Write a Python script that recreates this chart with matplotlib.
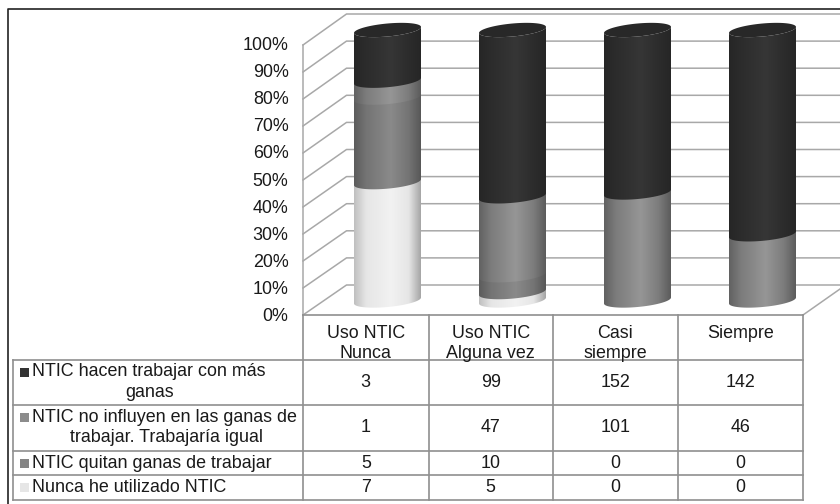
import numpy as np
import matplotlib
matplotlib.use('Agg')
import matplotlib.pyplot as plt
from matplotlib.colors import LinearSegmentedColormap
from matplotlib.patches import Polygon, Rectangle

categorias = ['Uso NTIC\nNunca', 'Uso NTIC\nAlguna vez', 'Casi\nsiempre', 'Siempre']
hacen = [3, 99, 152, 142]
no_influyen = [1, 47, 101, 46]
quitan = [5, 10, 0, 0]
nunca = [7, 5, 0, 0]
ticks_pct = [0, 10, 20, 30, 40, 50, 60, 70, 80, 90, 100]

plt.rcParams['font.family'] = ['Liberation Sans', 'DejaVu Sans']
TXT = '#1a1a1a'
GRID = '#a8a8a8'
TABLA = '#8f8f8f'
FS = 12.9

fig = plt.figure(figsize=(8.4, 5.04), dpi=100)
ax = fig.add_axes([0, 0, 1, 1])
ax.set_xlim(0, 840)
ax.set_ylim(504, 0)
ax.axis('off')

# marco exterior
ax.plot([8, 8, 840], [504, 9, 9], color='#222222', lw=1.2, zorder=1)

# paredes 3D
for i in range(11):
    y_back = 285 - 27.1 * i
    y_front = 315 - 27 * i
    ax.plot([303, 346.5, 840], [y_front, y_back, y_back], color=GRID, lw=1.1, zorder=2)
ax.plot([303, 303], [45, 315], color=GRID, lw=1.1, zorder=2)
ax.plot([803, 840], [315, 289], color=GRID, lw=1.1, zorder=2)

# etiquetas del eje
for p in ticks_pct:
    ax.text(288.5, 316.5 - 2.71 * p, str(p) + '%', ha='right', va='center', fontsize=FS, color=TXT, zorder=5)

# cilindros
X_LEFT = [354, 479, 604, 729]
R = 33.5
Y_BASE = 300.5
Y_TOP = 30
B = 6.5
TILT = 3


def arco(cx, cy):
    t = np.linspace(0, np.pi, 60)
    x = cx + R * np.cos(t)
    y = cy + B * np.sin(t) - TILT * np.cos(t)
    return x, y


def mapa(izq, claro, centro, der):
    return LinearSegmentedColormap.from_list('c', [(0, izq), (0.18, claro), (0.55, centro), (0.82, claro), (1, der)])


estilos = [
    mapa('#c0c0c0', '#e6e6e6', '#f2f2f2', '#a6a6a6'),
    mapa('#5c5c5c', '#747474', '#8a8a8a', '#585858'),
    mapa('#626262', '#7c7c7c', '#969696', '#5c5c5c'),
    mapa('#262626', '#2c2c2c', '#363636', '#262626'),
]
series = [nunca, quitan, no_influyen, hacen]
grad = np.linspace(0, 1, 128).reshape(1, -1)

for j, x0 in enumerate(X_LEFT):
    cx = x0 + R
    total = sum(s[j] for s in series)
    acum = 0
    for s, cmap in zip(series, estilos):
        if s[j] == 0:
            continue
        y1 = Y_BASE - (Y_BASE - Y_TOP) * acum / total
        acum += s[j]
        y2 = Y_BASE - (Y_BASE - Y_TOP) * acum / total
        xa, ya = arco(cx, y1)
        # se solapa un poco con el tramo de arriba para que no quede hueco
        solape = 0 if acum == total else 3
        xb, yb = arco(cx, y2 - solape)
        pts = np.column_stack([np.r_[xa, xb[::-1]], np.r_[ya, yb[::-1]]])
        im = ax.imshow(grad, cmap=cmap, extent=[x0, x0 + 2 * R, y1 + 15, y2 - 15],
                       aspect='auto', zorder=3, interpolation='bilinear')
        im.set_clip_path(Polygon(pts, transform=ax.transData))
    # tapa
    t = np.linspace(0, 2 * np.pi, 120)
    tapa = np.column_stack([cx + R * np.cos(t), Y_TOP + B * np.sin(t) - TILT * np.cos(t)])
    ax.add_patch(Polygon(tapa, closed=True, facecolor='#282828', edgecolor='none', zorder=4))
ax.set_xlim(0, 840)
ax.set_ylim(504, 0)

# tabla de datos
x_cols = [13, 303, 428.5, 553, 678, 803]
y_rows = [360, 405, 451, 475, 500]
LW = 1.2
ax.plot([13, 803], [360, 360], color=TABLA, lw=LW, zorder=2)
ax.plot([303, 803], [315, 315], color=TABLA, lw=LW, zorder=2)
for y in y_rows[1:]:
    ax.plot([13, 803], [y, y], color=TABLA, lw=LW, zorder=2)
for i, x in enumerate(x_cols):
    top = 360 if i == 0 else 315
    ax.plot([x, x], [top, 500], color=TABLA, lw=LW, zorder=2)

for k, c in enumerate(categorias):
    xc = (x_cols[k + 1] + x_cols[k + 2]) / 2
    ax.text(xc, 324.5, c, ha='center', va='top', fontsize=FS, color=TXT, linespacing=1.24, zorder=5)

filas = [hacen, no_influyen, quitan, nunca]
for r, fila in enumerate(filas):
    yc = (y_rows[r] + y_rows[r + 1]) / 2
    for k, v in enumerate(fila):
        xc = (x_cols[k + 1] + x_cols[k + 2]) / 2
        ax.text(xc, yc, str(v), ha='center', va='center', fontsize=FS, color=TXT, zorder=5)

# leyenda de la tabla
leyenda = [
    ('#333333', 372, 'NTIC hacen trabajar con más', 'ganas', 150),
    ('#8c8c8c', 417, 'NTIC no influyen en las ganas de', 'trabajar. Trabajaría igual', 166),
    ('#848484', 463, 'NTIC quitan ganas de trabajar', None, 0),
    ('#e6e6e6', 487, 'Nunca he utilizado NTIC', None, 0),
]
for color, y, linea1, linea2, xc in leyenda:
    ax.add_patch(Rectangle((20, y - 4.5), 9, 9, facecolor=color, edgecolor='none', zorder=5))
    ax.text(32, y, linea1, ha='left', va='center', fontsize=FS, color=TXT, zorder=5)
    if linea2:
        ax.text(xc, y + 20.5, linea2, ha='center', va='center', fontsize=FS, color=TXT, zorder=5)

fig.savefig('out.png', dpi=100)
